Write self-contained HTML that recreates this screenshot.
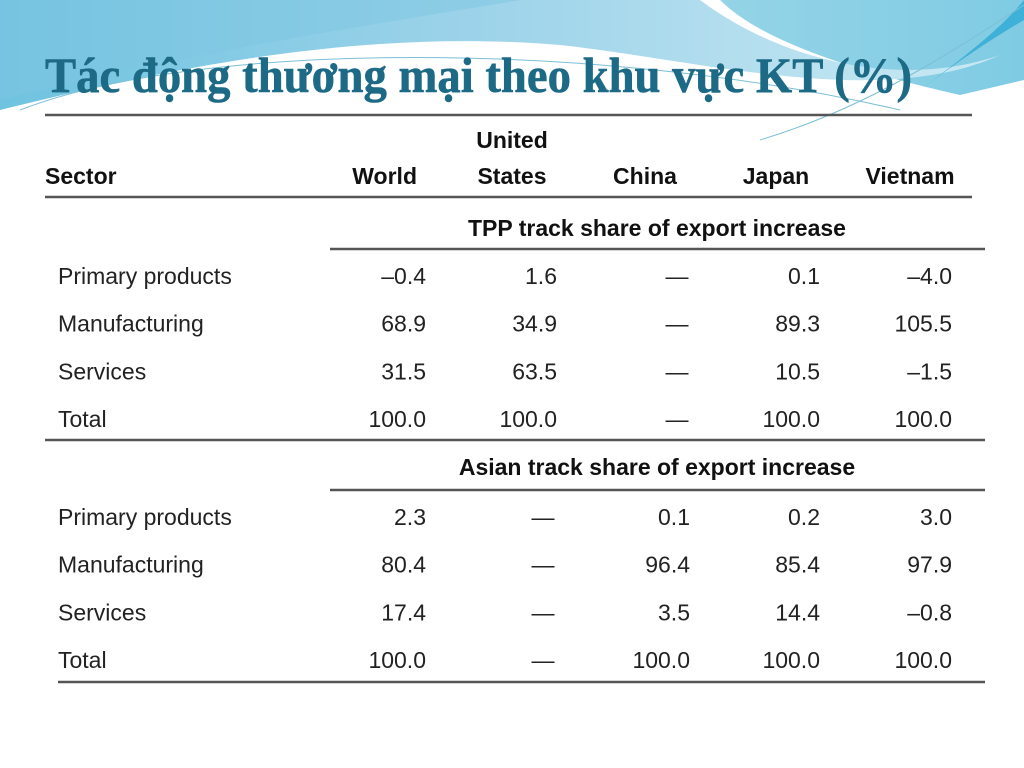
<!DOCTYPE html>
<html><head><meta charset="utf-8"><style>
html,body{margin:0;padding:0;background:#fff}
svg{display:block}
text{font-family:"Liberation Sans",sans-serif}
</style></head><body>
<svg width="1024" height="768" viewBox="0 0 1024 768">
<defs>
<linearGradient id="g1" x1="0" y1="0" x2="1" y2="0">
<stop offset="0" stop-color="#6fc3e0"/><stop offset="0.5" stop-color="#9fd4ea"/><stop offset="1" stop-color="#c9e9f3"/>
</linearGradient>
<linearGradient id="g2" x1="0" y1="0" x2="1" y2="0">
<stop offset="0" stop-color="#c8e8f0"/><stop offset="1" stop-color="#7fcbe3"/>
</linearGradient>
</defs>
<g>
<path d="M0 0 H720 C760 40 850 70 960 95 L1024 80 V0 Z" fill="url(#g2)"/>
<path d="M0 0 H700 C780 60 900 90 1000 55 C880 110 700 60 560 45 C380 30 200 60 0 110 Z" fill="url(#g1)"/>
<path d="M0 0 H520 C400 20 200 50 0 100 Z" fill="#7ec5e2" opacity="0.5"/>
<path d="M1024 0 V20 C990 40 960 60 920 90 C960 60 1000 30 1024 0" fill="#3fb0d8"/>
<path d="M20 110 C200 40 600 40 900 110" stroke="#7bbfd6" fill="none" stroke-width="1"/>
<path d="M1024 5 C940 60 860 110 760 140" stroke="#7bbfd6" fill="none" stroke-width="1"/>
</g>
<text x="45" y="92" font-weight="bold" font-size="50" fill="#1d6a86" stroke="#1d6a86" stroke-width="0.6" textLength="867" lengthAdjust="spacingAndGlyphs" style="font-family:'Liberation Serif',serif">Tác động thương mại theo khu vực KT (%)</text>
<g stroke="#555" stroke-width="2.5">
<line x1="45" y1="115" x2="972" y2="115"/>
<line x1="45" y1="197" x2="972" y2="197"/>
<line x1="330" y1="249" x2="985" y2="249"/>
<line x1="45" y1="440" x2="985" y2="440"/>
<line x1="330" y1="490" x2="985" y2="490"/>
<line x1="58" y1="682" x2="985" y2="682"/>
</g>
<g font-weight="bold" font-size="23" fill="#111">
<text x="45" y="184">Sector</text>
<text x="417" y="184" text-anchor="end">World</text>
<text x="512" y="148" text-anchor="middle">United</text>
<text x="512" y="184" text-anchor="middle">States</text>
<text x="645" y="184" text-anchor="middle">China</text>
<text x="776" y="184" text-anchor="middle">Japan</text>
<text x="910" y="184" text-anchor="middle">Vietnam</text>
<text x="657" y="236" text-anchor="middle">TPP track share of export increase</text>
<text x="657" y="475" text-anchor="middle">Asian track share of export increase</text>
</g>
<g id="body" font-size="23" fill="#222"></g>
</svg>
<script>
const sectors=["Primary products","Manufacturing","Services","Total"];
const tpp=[["–0.4","1.6","—","0.1","–4.0"],["68.9","34.9","—","89.3","105.5"],["31.5","63.5","—","10.5","–1.5"],["100.0","100.0","—","100.0","100.0"]];
const asian=[["2.3","—","0.1","0.2","3.0"],["80.4","—","96.4","85.4","97.9"],["17.4","—","3.5","14.4","–0.8"],["100.0","—","100.0","100.0","100.0"]];
const colRight=[426,557,690,820,952];
const colCenter=[395,543,677,800,925];
const g=document.getElementById('body');
function row(vals,label,y,i){
  const t=document.createElementNS('http://www.w3.org/2000/svg','text');
  
  
  t.setAttribute('x',58);t.setAttribute('y',y);t.textContent=label;g.appendChild(t);
  vals.forEach((v,j)=>{
    const c=document.createElementNS('http://www.w3.org/2000/svg','text');
    
    
    if(v==='—'){c.setAttribute('x',colCenter[j]);c.setAttribute('text-anchor','middle');}
    else{c.setAttribute('x',colRight[j]);c.setAttribute('text-anchor','end');}
    c.setAttribute('y',y);c.textContent=v;g.appendChild(c);
  });
}
tpp.forEach((r,i)=>row(r,sectors[i],284+i*47.7,i));
asian.forEach((r,i)=>row(r,sectors[i],525+i*47.7,i));
</script>
</body></html>
